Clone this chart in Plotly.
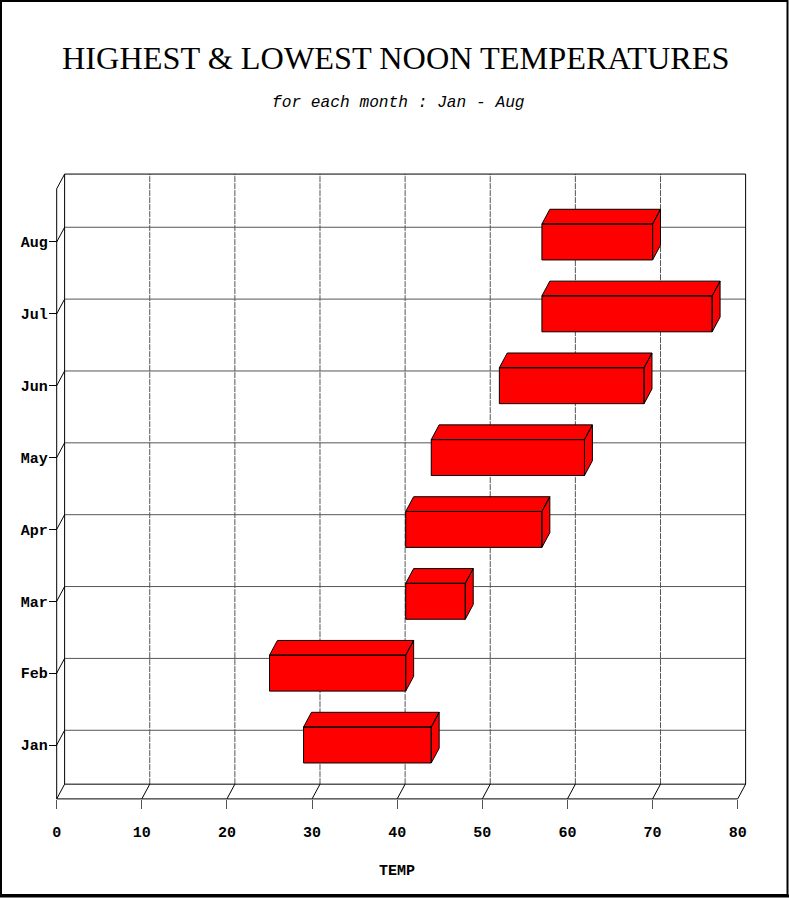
import plotly.graph_objects as go

# ---- data ----
months = ["Jan", "Feb", "Mar", "Apr", "May", "Jun", "Jul", "Aug"]
low_temp = [29, 25, 41, 41, 44, 52, 57, 57]
high_temp = [44, 41, 48, 57, 62, 69, 77, 70]
x_ticks = [0, 10, 20, 30, 40, 50, 60, 70, 80]

# ---- geometry (styles / layout) ----
W, H = 789, 898
PX0, PXU = 56.7, 8.5125     # pixel of x=0, px per unit
PY0, PYU = 745.0, 71.86     # pixel of first category, px per category
DX, DY = 0.93, 0.205        # 3D depth offset in data units
BAR_HALF = 0.25
Y_LO, Y_HI = -0.75, 7.74
X_LO, X_HI = x_ticks[0], x_ticks[-1]
L, R, T, B = 40, 770, 150, 820


def px_x(p):
    return (p - L) / (R - L)


def px_y(p):
    return (B - p) / (B - T)


cats = list(range(len(months)))

# back-plane gridlines
solid_x, solid_y = [], []
dash_x, dash_y = [], []
for c in cats:
    solid_x += [X_LO + DX, X_HI + DX, None]
    solid_y += [c + DY, c + DY, None]
for v in x_ticks[1:-1]:
    dash_x += [v + DX, v + DX, None]
    dash_y += [Y_LO + DY, Y_HI + DY, None]

# frame edges
fx, fy = [], []
# back plane outline
fx += [X_LO + DX, X_LO + DX, X_HI + DX, X_HI + DX, X_LO + DX, None]
fy += [Y_LO + DY, Y_HI + DY, Y_HI + DY, Y_LO + DY, Y_LO + DY, None]
# front left & bottom edges
fx += [X_LO, X_LO, None, X_LO, X_HI, None]
fy += [Y_LO, Y_HI, None, Y_LO, Y_LO, None]
# slants at x ticks
for v in x_ticks:
    fx += [v, v + DX, None]
    fy += [Y_LO, Y_LO + DY, None]
# slants at categories and top corner
for c in cats + [Y_HI]:
    fx += [X_LO, X_LO + DX, None]
    fy += [c, c + DY, None]

# 3D bars
bx, by = [], []
for c, lo, hi in zip(cats, low_temp, high_temp):
    b0, b1 = c - BAR_HALF, c + BAR_HALF
    # front face
    bx += [lo, hi, hi, lo, lo, None]
    by += [b0, b0, b1, b1, b0, None]
    # top face
    bx += [lo, lo + DX, hi + DX, hi, lo, None]
    by += [b1, b1 + DY, b1 + DY, b1, b1, None]
    # right face
    bx += [hi, hi + DX, hi + DX, hi, hi, None]
    by += [b0, b0 + DY, b1 + DY, b1, b0, None]

fig = go.Figure()
fig.add_trace(go.Scatter(x=solid_x, y=solid_y, mode="lines",
                         line=dict(color="#555555", width=1), hoverinfo="skip"))
fig.add_trace(go.Scatter(x=dash_x, y=dash_y, mode="lines",
                         line=dict(color="#555555", width=1, dash="6px,1px"), hoverinfo="skip"))
fig.add_trace(go.Scatter(x=fx, y=fy, mode="lines",
                         line=dict(color="#000000", width=1), hoverinfo="skip"))
fig.add_trace(go.Scatter(x=bx, y=by, mode="lines", fill="toself", fillcolor="#FF0000",
                         line=dict(color="#000000", width=1), hoverinfo="skip"))

tickfont = dict(family="Liberation Mono", size=15, color="#000000", weight="bold")

fig.update_layout(
    width=W, height=H,
    margin=dict(l=L, r=W - R, t=T, b=H - B, pad=0),
    paper_bgcolor="white", plot_bgcolor="white",
    showlegend=False,
    xaxis=dict(range=[(L - PX0) / PXU, (R - PX0) / PXU], tickvals=x_ticks,
               ticktext=[str(v) for v in x_ticks], ticks="outside", ticklen=9,
               tickcolor="#555555", showgrid=False, zeroline=False, showline=False,
               anchor="free", position=px_y(PY0 - Y_LO * PYU), tickfont=tickfont,
               ticklabelstandoff=10, fixedrange=True),
    yaxis=dict(range=[(PY0 - B) / PYU, (PY0 - T) / PYU], tickvals=cats, ticktext=months,
               ticks="outside", ticklen=8, tickcolor="#000000", showgrid=False,
               zeroline=False, showline=False, anchor="free", position=px_x(PX0),
               tickfont=tickfont, ticklabelstandoff=-2, fixedrange=True),
    annotations=[
        dict(text="HIGHEST &amp; LOWEST NOON TEMPERATURES", xref="paper", yref="paper",
             x=px_x(395.5), y=px_y(58), xanchor="center", yanchor="middle", showarrow=False,
             font=dict(family="Liberation Serif", size=32.3, color="#000000")),
        dict(text="<i>for each month : Jan - Aug</i>", xref="paper", yref="paper",
             x=px_x(398.5), y=px_y(103), xanchor="center", yanchor="middle", showarrow=False,
             font=dict(family="Liberation Mono", size=16.2, color="#000000")),
        dict(text="TEMP", xref="x", yref="paper", x=40, y=px_y(871),
             xanchor="center", yanchor="middle", showarrow=False, font=tickfont),
    ],
    shapes=[
        dict(type="rect", xref="paper", yref="paper", x0=px_x(1), x1=px_x(787.5),
             y0=px_y(1), y1=px_y(895), line=dict(color="#000000", width=2)),
        dict(type="line", xref="paper", yref="paper", x0=px_x(0), x1=px_x(789),
             y0=px_y(896), y1=px_y(896), line=dict(color="#000000", width=3)),
    ],
)

fig.write_html("out.html", config={"displayModeBar": False, "staticPlot": True},
               post_script="document.body.style.margin='0';document.body.style.padding='0';")
